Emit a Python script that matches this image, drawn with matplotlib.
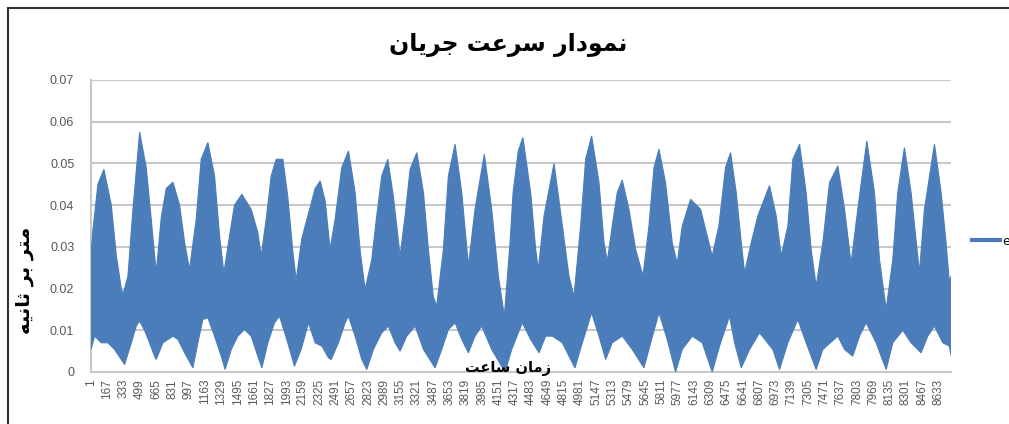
import matplotlib
matplotlib.use("Agg")
import matplotlib.pyplot as plt
from matplotlib.lines import Line2D
from matplotlib import font_manager, ft2font

# ---------------- data ----------------
title_text = "نمودار سرعت جریان"
ylabel_text = "متر بر ثانیه"
xlabel_text = "زمان ساعت"
legend_label = "e"

n_hours = 8760

x_tick_labels = ["1", "167", "333", "499", "665", "831", "997", "1163", "1329", "1495",
                 "1661", "1827", "1993", "2159", "2325", "2491", "2657", "2823", "2989",
                 "3155", "3321", "3487", "3653", "3819", "3985", "4151", "4317", "4483",
                 "4649", "4815", "4981", "5147", "5313", "5479", "5645", "5811", "5977",
                 "6143", "6309", "6475", "6641", "6807", "6973", "7139", "7305", "7471",
                 "7637", "7803", "7969", "8135", "8301", "8467", "8633"]

y_ticks = [0, 0.01, 0.02, 0.03, 0.04, 0.05, 0.06, 0.07]
y_tick_labels = ["0", "0.01", "0.02", "0.03", "0.04", "0.05", "0.06", "0.07"]

# upper envelope of the hourly velocity series (hour, m/s)
upper_hours = [1, 20, 71, 132, 207, 258, 309, 326, 377, 428, 496, 563, 614, 665, 716, 767,
               835, 903, 954, 1004, 1072, 1123, 1191, 1259, 1310, 1354, 1412, 1462, 1537,
               1632, 1700, 1734, 1785, 1836, 1887, 1955, 2005, 2056, 2090, 2148, 2216, 2284,
               2335, 2386, 2436, 2487, 2555, 2623, 2691, 2742, 2793, 2861, 2911, 2962, 3023,
               3081, 3149, 3200, 3251, 3319, 3387, 3437, 3488, 3522, 3590, 3641, 3709, 3777,
               3845, 3912, 4007, 4082, 4150, 4211, 4269, 4300, 4353, 4400, 4479, 4530, 4557,
               4615, 4717, 4802, 4869, 4920, 4988, 5039, 5100, 5175, 5226, 5260, 5310, 5361,
               5412, 5480, 5548, 5623, 5684, 5735, 5786, 5853, 5921, 5972, 6023, 6108, 6210,
               6277, 6328, 6396, 6464, 6515, 6573, 6624, 6658, 6726, 6793, 6912, 6980, 7031,
               7099, 7150, 7218, 7285, 7336, 7387, 7455, 7523, 7608, 7676, 7743, 7811, 7903,
               7981, 8032, 8100, 8168, 8218, 8286, 8354, 8439, 8490, 8592, 8660, 8710, 8744,
               8760]
upper_vals = [0.028, 0.034, 0.045, 0.0486, 0.040, 0.028, 0.020, 0.0186, 0.023, 0.039,
              0.0575, 0.049, 0.0366, 0.0238, 0.037, 0.044, 0.0455, 0.040, 0.031, 0.0246,
              0.0366, 0.051, 0.055, 0.047, 0.0326, 0.0238, 0.0326, 0.040, 0.0426, 0.039,
              0.0334, 0.0278, 0.0366, 0.047, 0.051, 0.051, 0.042, 0.029, 0.022, 0.032,
              0.038, 0.044, 0.0458, 0.041, 0.0294, 0.0366, 0.049, 0.053, 0.043, 0.029,
              0.0198, 0.027, 0.0374, 0.047, 0.051, 0.042, 0.0278, 0.0374, 0.0486, 0.0526,
              0.043, 0.0294, 0.018, 0.0158, 0.0294, 0.047, 0.0546, 0.043, 0.0254, 0.039,
              0.0522, 0.039, 0.023, 0.0134, 0.031, 0.043, 0.053, 0.0562, 0.043, 0.0294,
              0.0246, 0.0374, 0.050, 0.035, 0.023, 0.018, 0.035, 0.051, 0.0566, 0.0454,
              0.031, 0.0266, 0.035, 0.043, 0.046, 0.039, 0.0294, 0.023, 0.035, 0.049,
              0.0534, 0.0454, 0.031, 0.026, 0.035, 0.0414, 0.039, 0.0326, 0.0278, 0.035,
              0.049, 0.0526, 0.043, 0.031, 0.0238, 0.031, 0.0374, 0.0447, 0.0374, 0.0278,
              0.035, 0.051, 0.0546, 0.043, 0.0294, 0.0206, 0.031, 0.0454, 0.0494, 0.039,
              0.026, 0.039, 0.0554, 0.043, 0.027, 0.015, 0.027, 0.043, 0.0538, 0.043,
              0.0238, 0.039, 0.0546, 0.043, 0.031, 0.0214, 0.023]

# lower envelope of the hourly velocity series (hour, m/s)
lower_hours = [1, 37, 105, 173, 241, 309, 343, 411, 461, 496, 546, 597, 648, 665, 733, 835,
               886, 954, 1038, 1089, 1140, 1191, 1259, 1327, 1367, 1429, 1496, 1564, 1632,
               1700, 1741, 1802, 1870, 1921, 2005, 2073, 2141, 2216, 2284, 2352, 2420, 2447,
               2521, 2589, 2623, 2691, 2759, 2810, 2877, 2962, 3030, 3098, 3149, 3217, 3302,
               3387, 3505, 3573, 3641, 3709, 3777, 3845, 3912, 3980, 4082, 4218, 4286, 4394,
               4479, 4564, 4632, 4700, 4802, 4869, 4930, 5005, 5100, 5175, 5243, 5310, 5412,
               5514, 5633, 5701, 5786, 5870, 5955, 6023, 6125, 6227, 6328, 6413, 6505, 6556,
               6624, 6709, 6810, 6946, 7014, 7099, 7201, 7285, 7387, 7455, 7608, 7676, 7760,
               7828, 7896, 7998, 8100, 8168, 8269, 8354, 8456, 8524, 8592, 8677, 8744, 8760]
lower_vals = [0.0054, 0.0086, 0.007, 0.007, 0.0054, 0.003, 0.0018, 0.007, 0.011, 0.0122,
              0.010, 0.007, 0.0038, 0.003, 0.007, 0.0086, 0.0078, 0.0046, 0.001, 0.007,
              0.0126, 0.013, 0.0086, 0.0038, 0.0006, 0.0054, 0.0086, 0.0102, 0.0086, 0.0038,
              0.001, 0.007, 0.0118, 0.0134, 0.007, 0.0014, 0.0054, 0.0118, 0.007, 0.0062,
              0.0034, 0.003, 0.007, 0.0118, 0.0134, 0.0086, 0.003, 0.0006, 0.0054, 0.0094,
              0.011, 0.007, 0.005, 0.0086, 0.011, 0.0054, 0.001, 0.0054, 0.0102, 0.0118,
              0.0078, 0.0046, 0.0086, 0.011, 0.0054, 0.0, 0.0054, 0.0118, 0.0078, 0.0046,
              0.0086, 0.0086, 0.007, 0.0038, 0.001, 0.007, 0.0142, 0.0086, 0.003, 0.007,
              0.0086, 0.0054, 0.001, 0.007, 0.0142, 0.0078, 0.0, 0.0054, 0.0086, 0.007,
              0.0, 0.007, 0.0134, 0.007, 0.001, 0.0054, 0.0094, 0.0054, 0.0006, 0.007,
              0.0126, 0.007, 0.0006, 0.0054, 0.0086, 0.0054, 0.0038, 0.0086, 0.0118, 0.007,
              0.0006, 0.007, 0.010, 0.007, 0.0046, 0.0086, 0.011, 0.007, 0.0062, 0.004]

# ---------------- Arabic-script shaping (no shaping engine in matplotlib) ----------------
def _has_glyph(ch, weight="bold"):
    try:
        path = font_manager.findfont(font_manager.FontProperties(family="DejaVu Sans", weight=weight))
        return ft2font.FT2Font(path).get_char_index(ord(ch)) != 0
    except Exception:
        return False

_forms = {  # isolated, final, initial, medial
    "\u0627": ("\uFE8D", "\uFE8E", None, None),
    "\u0628": ("\uFE8F", "\uFE90", "\uFE91", "\uFE92"),
    "\u062A": ("\uFE95", "\uFE96", "\uFE97", "\uFE98"),
    "\u062B": ("\uFE99", "\uFE9A", "\uFE9B", "\uFE9C"),
    "\u062C": ("\uFE9D", "\uFE9E", "\uFE9F", "\uFEA0"),
    "\u062F": ("\uFEA9", "\uFEAA", None, None),
    "\u0631": ("\uFEAD", "\uFEAE", None, None),
    "\u0632": ("\uFEAF", "\uFEB0", None, None),
    "\u0633": ("\uFEB1", "\uFEB2", "\uFEB3", "\uFEB4"),
    "\u0639": ("\uFEC9", "\uFECA", "\uFECB", "\uFECC"),
    "\u0645": ("\uFEE1", "\uFEE2", "\uFEE3", "\uFEE4"),
    "\u0646": ("\uFEE5", "\uFEE6", "\uFEE7", "\uFEE8"),
    "\u0647": ("\uFEE9", "\uFEEA", "\uFEEB", "\uFEEC"),
    "\u0648": ("\uFEED", "\uFEEE", None, None),
}
if _has_glyph("\uFBFE"):
    _forms["\u06CC"] = ("\uFBFC", "\uFBFD", "\uFBFE", "\uFBFF")
else:
    _forms["\u06CC"] = ("\uFEEF", "\uFEF0", "\uFEF3", "\uFEF4")


def rtl(text):
    out = []
    for i, ch in enumerate(text):
        if ch not in _forms:
            out.append(ch)
            continue
        prev = text[i - 1] if i > 0 else ""
        nxt = text[i + 1] if i + 1 < len(text) else ""
        join_prev = prev in _forms and _forms[prev][2] is not None
        join_next = _forms[ch][2] is not None and nxt in _forms
        iso, fin, ini, med = _forms[ch]
        if join_prev and join_next:
            out.append(med)
        elif join_prev:
            out.append(fin)
        elif join_next:
            out.append(ini)
        else:
            out.append(iso)
    return "".join(out)[::-1]

# ---------------- figure ----------------
W, H = 1009, 424
blue = "#4a7dba"
grid_c = "#c8c8c8"
tick_c = "#595959"
narrow = ["Liberation Sans Narrow", "Liberation Sans", "DejaVu Sans"]

fig = plt.figure(figsize=(W / 100, H / 100), dpi=100)
ax_left, ax_right, ax_top, ax_bottom = 91, 951, 80, 372
ax = fig.add_axes([ax_left / W, 1 - ax_bottom / H, (ax_right - ax_left) / W, (ax_bottom - ax_top) / H])

poly_x = upper_hours + lower_hours[::-1]
poly_y = upper_vals + lower_vals[::-1]
ax.fill(poly_x, poly_y, color=blue, lw=0.8, zorder=3)

ax.set_xlim(0.5, n_hours + 0.5)
ax.set_ylim(0, 0.07)

ax.set_yticks(y_ticks)
ax.set_yticklabels(y_tick_labels, fontsize=9, color=tick_c, family=narrow)
ax.set_xticks([int(t) for t in x_tick_labels])
ax.set_xticklabels(x_tick_labels, rotation=90, fontsize=8.5, color=tick_c, family=narrow)
ax.tick_params(axis="y", length=0, pad=12)
ax.tick_params(axis="x", length=0, pad=5)

ax.yaxis.grid(True, color=grid_c, lw=1.5)
ax.set_axisbelow(True)
for s in ["top", "right"]:
    ax.spines[s].set_visible(False)
for s in ["left", "bottom"]:
    ax.spines[s].set_color(grid_c)
    ax.spines[s].set_linewidth(1.5)

fig.text(508 / W, 1 - 45 / H, rtl(title_text), ha="center", va="center",
         fontsize=17, fontweight="bold", family="DejaVu Sans", color="black")
fig.text(25 / W, 1 - 280 / H, rtl(ylabel_text), ha="center", va="center", rotation=90,
         fontsize=14, fontweight="bold", family="DejaVu Sans", color="black")
fig.text(508 / W, 1 - 368 / H, rtl(xlabel_text), ha="center", va="center",
         fontsize=10.5, fontweight="bold", family="DejaVu Sans", color="black", zorder=5)

handle = Line2D([], [], color=blue, lw=3)
ax.legend([handle], [legend_label], loc="center left",
          bbox_to_anchor=(1 + (972 - ax_right) / (ax_right - ax_left), (ax_bottom - 241) / (ax_bottom - ax_top)),
          frameon=False, borderpad=0, borderaxespad=0, handlelength=2.2, handletextpad=0.2,
          prop={"size": 9})

# outer frame of the chart area (top and left edges visible in the reference)
fig.add_artist(Line2D([7.5 / W, 7.5 / W], [0, 1 - 8 / H], color="#333333", lw=1.5))
fig.add_artist(Line2D([7.5 / W, 1.0], [1 - 8 / H, 1 - 8 / H], color="#333333", lw=1.5))

fig.savefig("out.png", dpi=100)
